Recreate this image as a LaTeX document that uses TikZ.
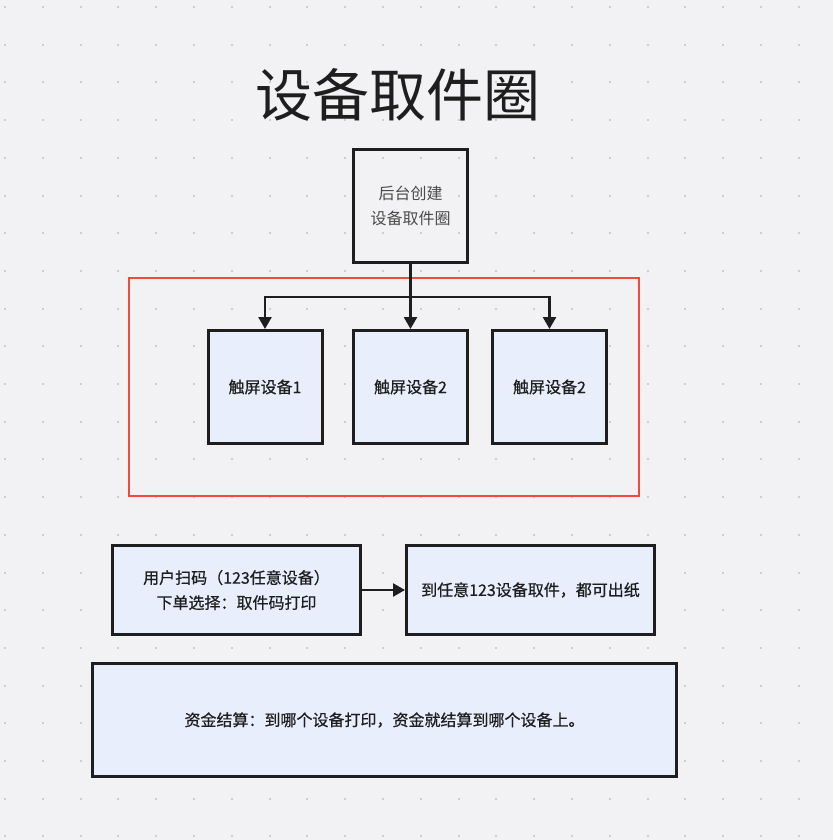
\documentclass[tikz,border=0pt]{standalone}
\usepackage{fontspec}
\setmainfont{Noto Sans CJK SC}
\newfontfamily\medfont[FakeBold=0.6]{Noto Sans CJK SC}
\usetikzlibrary{arrows.meta,positioning,calc}
\definecolor{canvas}{HTML}{F2F2F4}
\definecolor{griddot}{HTML}{CDCDD2}
\definecolor{ink}{HTML}{1E1E1E}
\definecolor{boxfill}{HTML}{E8EEFC}
\definecolor{zonered}{HTML}{F04A40}

\begin{document}
\begin{tikzpicture}[x=1pt, y=-1pt,
  box/.style={draw=ink, line width=3pt, fill=boxfill, minimum width=114pt, minimum height=113pt, inner sep=0pt, align=center, text=ink, font=\medfont\fontsize{16}{25}\selectfont},
  wide/.style={box, minimum width=248pt, minimum height=89pt},
  arr/.style={-{Triangle[length=12pt, width=13pt]}, line width=2.5pt, draw=ink}]
  % canvas with dot grid
  \fill[canvas] (0,0) rectangle (833,840);
  \useasboundingbox (0,0) rectangle (833,840);
  \foreach \i in {0,...,21}
    \foreach \j in {0,...,22}
      \fill[griddot] ({4+37.8*\i},{6+37.7*\j}) rectangle ++(2,2);

  \node[text=ink, font=\fontsize{57}{60}\selectfont] (title) at (398,95) {设备取件圈};
  \node[box, fill=none, text=ink!80, font=\normalfont\fontsize{16}{25}\selectfont] (create) at (410.5,206) {后台创建\\设备取件圈};

  \node[draw=zonered, line width=2pt, minimum width=510pt, minimum height=218pt] (zone) at (384,387) {};
  \node[box] (dev1) at (265,387) {触屏设备1};
  \node[box] (dev2) at (410.5,387) {触屏设备2};
  \node[box] (dev3) at (549.5,387) {触屏设备2};
  \coordinate (fork) at (410.5,297);
  \draw[arr] (create) -- (dev2);
  \draw[arr] (fork) -| (dev1);
  \draw[arr] (fork) -| (dev3);

  \node[wide] (scan) at (236.5,590) {用户扫码（123任意设备）\\下单选择：取件码打印};
  \node[wide] (pick) at (530.5,590) {到任意123设备取件，都可出纸};
  \draw[arr] (scan) -- (pick);

  \node[wide, minimum width=584pt, minimum height=113pt] (settle) at (384.5,720) {资金结算：到哪个设备打印，资金就结算到哪个设备上。};
\end{tikzpicture}
\end{document}
